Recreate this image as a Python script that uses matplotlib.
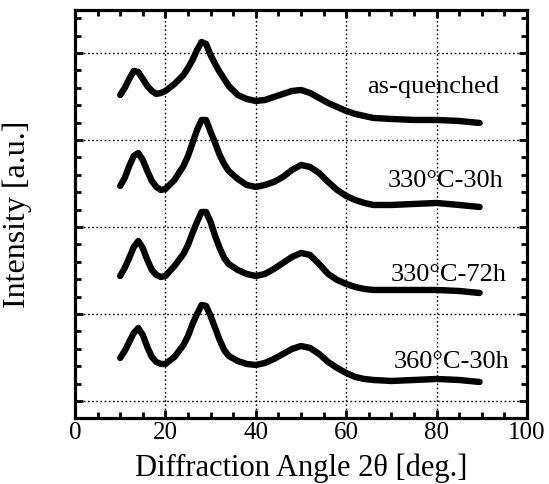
import numpy as np
import matplotlib
matplotlib.use("Agg")
import matplotlib.pyplot as plt
from matplotlib.ticker import FixedLocator, MultipleLocator

plt.rcParams['font.family'] = ['Liberation Serif', 'DejaVu Serif']

# diffraction angle 2theta [deg.]
two_theta = [10, 11, 12, 13, 14, 15, 16, 17, 18, 19, 20, 22, 24, 25, 26, 27, 28,
             29, 30, 31, 32, 33, 34, 36, 38, 40, 42, 44, 46, 48, 50, 52, 54, 56,
             58, 60, 62, 64, 66, 70, 75, 80, 85, 89.5]

# intensity [a.u.], curves stacked with vertical offsets as in the figure
as_quenched = [323, 330, 339, 347, 346, 339, 332, 327, 324, 325, 327, 334, 343, 350,
               358, 368, 376, 374, 363, 354, 346, 339, 332, 323, 319, 317, 318, 321,
               324, 327, 328, 325, 320, 315, 311, 307, 304, 302, 300, 299, 298, 298,
               297, 295]
c330_30h = [232, 240, 252, 262, 265, 258, 247, 237, 231, 228, 229, 238, 252, 262,
            275, 288, 298, 298, 286, 275, 263, 254, 247, 239, 233, 231, 233, 236,
            241, 248, 253, 251, 245, 236, 228, 222, 218, 215, 213, 213, 214, 215,
            213, 211]
c330_72h = [142, 150, 160, 171, 177, 170, 158, 148, 143, 141, 142, 152, 164, 173,
            185, 196, 206, 206, 196, 182, 170, 160, 154, 148, 144, 142, 144, 149,
            155, 161, 165, 163, 154, 144, 138, 134, 131, 129, 128, 128, 128, 128,
            127, 125]
c360_30h = [60, 67, 76, 85, 90, 83, 71, 61, 56, 54, 54, 61, 73, 82, 94, 104, 113,
            112, 102, 90, 78, 68, 62, 57, 54, 53, 55, 59, 64, 69, 72, 70, 64, 56,
            50, 45, 41, 39, 38, 37, 38, 39, 38, 36]

labels = ['as-quenched', '330\u00b0C-30h', '330\u00b0C-72h', '360\u00b0C-30h']
label_x = [93.8, 94.7, 95.4, 96.1]
label_y = [325, 231, 137, 50]

fig = plt.figure(figsize=(5.49, 4.84), dpi=100)
ax = fig.add_axes([0.1366, 0.1364, 0.8234, 0.8430])

for series in [as_quenched, c330_30h, c330_72h, c360_30h]:
    ax.plot(two_theta, series, color='black', lw=4.6, solid_capstyle='round',
            solid_joinstyle='round', zorder=3)

for txt, tx, ty in zip(labels, label_x, label_y):
    ax.text(tx, ty, txt, ha='right', va='baseline', fontsize=19, zorder=4)

ax.set_xlim(0, 100)
ax.set_ylim(0, 408)
ax.xaxis.set_major_locator(MultipleLocator(20))
ax.xaxis.set_minor_locator(MultipleLocator(5))
ax.yaxis.set_major_locator(FixedLocator(np.arange(17, 408, 87)))
ax.yaxis.set_minor_locator(FixedLocator(np.arange(-0.4, 408, 17.4)))
ax.set_yticklabels([])

ax.grid(True, which='major', color='black', lw=1, linestyle=(0, (1.2, 1.8)))
ax.tick_params(which='both', direction='in', top=True, right=True, width=2)
ax.tick_params(which='major', length=6, labelsize=18, pad=3)
ax.tick_params(which='minor', length=4)
for sp in ax.spines.values():
    sp.set_linewidth(2.3)

ax.set_xlabel('Diffraction Angle 2\u03b8 [deg.]', fontsize=22)
ax.set_ylabel('Intensity [a.u.]', fontsize=23)
ax.xaxis.set_label_coords(0.5, -0.088)
ax.yaxis.set_label_coords(-0.096, 0.5)

fig.savefig('out.png', dpi=100)
